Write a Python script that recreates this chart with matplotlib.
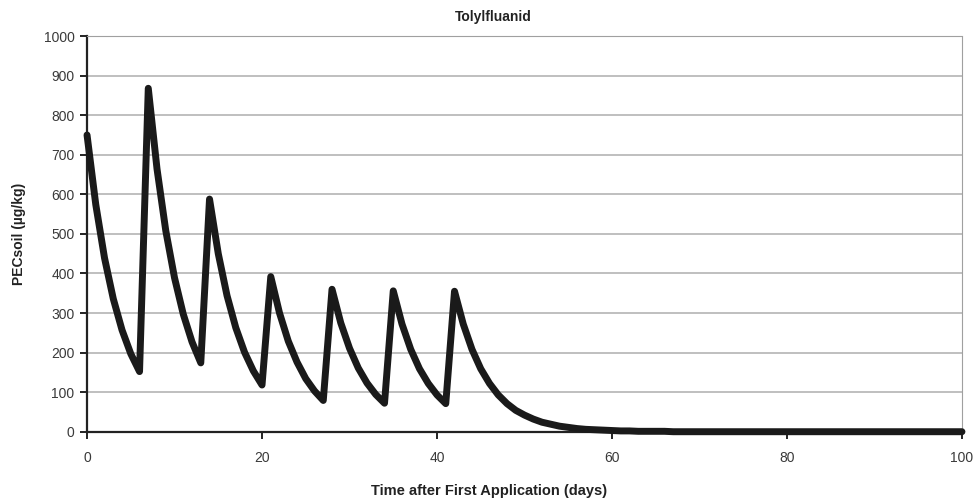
import numpy as np
import matplotlib
matplotlib.use('Agg')
import matplotlib.pyplot as plt

plt.rcParams['font.family'] = ['Liberation Sans', 'DejaVu Sans']

# PEC soil (µg/kg), one value per day
days = list(range(0, 101))
pec = [750, 574, 439, 336, 257, 197, 152,
       868, 664, 508, 389, 297, 227, 174,
       588, 450, 344, 263, 201, 154, 118,
       392, 300, 229, 176, 134, 103, 79,
       360, 275, 211, 161, 123, 94, 72,
       356, 272, 208, 159, 122, 93, 71,
       355, 272, 208, 159, 122, 93, 71, 54, 42, 32, 24, 19, 14, 11,
       8, 6, 5, 4, 3, 2, 2, 1, 1, 1, 1,
       0, 0, 0, 0, 0, 0, 0, 0, 0, 0, 0, 0, 0, 0, 0, 0, 0, 0, 0, 0,
       0, 0, 0, 0, 0, 0, 0, 0, 0, 0, 0, 0, 0, 0]

title = 'Tolylfluanid'
xlabel = 'Time after First Application (days)'
ylabel = 'PECsoil (µg/kg)'

fig = plt.figure(figsize=(9.79, 5.01), dpi=100)
ax = fig.add_axes([0.0889, 0.1383, 0.8937, 0.7897])

ax.set_axisbelow(True)
ax.yaxis.grid(True, color='#b4b4b4', lw=1.2)
ax.plot(days, pec, color='#1a1a1a', lw=5, solid_joinstyle='round',
        solid_capstyle='round', zorder=3, clip_on=False)

ax.set_xlim(0, 100)
ax.set_ylim(0, 1000)
ax.set_xticks(range(0, 101, 20))
ax.set_yticks(range(0, 1001, 100))

for s in ['left', 'bottom']:
    ax.spines[s].set_color('#222222')
    ax.spines[s].set_linewidth(1.6)
ax.spines['top'].set_color('#a0a0a0')
ax.spines['top'].set_linestyle((0, (2, 1)))
ax.spines['right'].set_color('#a0a0a0')
ax.spines['right'].set_linestyle((0, (2, 1)))

ax.tick_params(direction='out', length=5, width=1.4, color='#222222',
               labelsize=10, labelcolor='#3a3a3a')
ax.tick_params(axis='x', pad=9)
ax.tick_params(axis='y', pad=4)

fig.text(0.504, 0.967, title, ha='center', va='center', fontsize=10, fontweight='bold', color='#222222')
fig.text(0.500, 0.020, xlabel, ha='center', va='center', fontsize=10.5, fontweight='bold', color='#222222')
fig.text(0.019, 0.533, ylabel, ha='center', va='center', rotation=90, fontsize=10, fontweight='bold', color='#222222')

fig.savefig('out.png', dpi=100)
